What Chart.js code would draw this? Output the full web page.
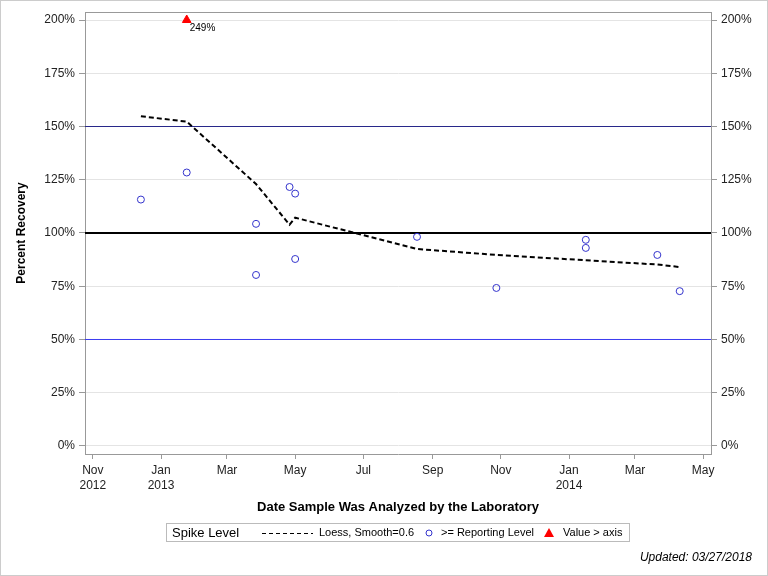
<!DOCTYPE html>
<html>
<head>
<meta charset="utf-8">
<script src="https://cdn.jsdelivr.net/npm/chart.js@4"></script>
<style>
  html, body { margin: 0; padding: 0; background: #fff; }
  canvas { display: block; }
</style>
</head>
<body>
<canvas id="spikeChart" width="768" height="576"></canvas>
<script>
// sample dates and percent recovery
const sampleDates = ["2012-12-14", "2013-01-24", "2013-03-27", "2013-03-27", "2013-04-26",
  "2013-05-01", "2013-05-01", "2013-08-18", "2013-10-28", "2014-01-16", "2014-01-16",
  "2014-03-21", "2014-04-10"];
const recovery = [115.7, 128.4, 104.3, 80.3, 121.6, 118.5, 87.8, 98.2, 74.2, 96.8, 93.0, 89.7, 72.7];

// loess fit evaluated at the distinct sample dates
const loessDates = ["2012-12-14", "2013-01-24", "2013-03-27", "2013-04-26", "2013-05-01",
  "2013-08-18", "2013-10-28", "2014-01-16", "2014-03-21", "2014-04-10"];
const loessValues = [154.8, 152.3, 123.0, 103.9, 107.2, 92.5, 89.7, 87.2, 85.2, 84.0];

// value beyond the axis, plotted at the top
const offAxisDates = ["2013-01-24"];
const offAxisValues = [249];

const refLevels = [150, 100, 50];
const yTicks = [0, 25, 50, 75, 100, 125, 150, 175, 200];
const tickDates = ["2012-11-01", "2013-01-01", "2013-03-01", "2013-05-01", "2013-07-01",
  "2013-09-01", "2013-11-01", "2014-01-01", "2014-03-01", "2014-05-01"];
const tickLabels = [["Nov", "2012"], ["Jan", "2013"], "Mar", "May", "Jul", "Sep", "Nov",
  ["Jan", "2014"], "Mar", "May"];

const day = (s) => Date.parse(s + "T00:00:00Z") / 86400000;
const xMin = day("2012-10-25");
const xMax = day("2014-05-08");
const yMax = 200;

Chart.defaults.font.family = '"Liberation Sans", Arial, sans-serif';
Chart.defaults.color = "#222";

const refColors = ["#28288a", "#000000", "#3a3af0"];
const refWidths = [1, 2, 1];

const refSets = refLevels.map((lvl, i) => ({
  label: "ref" + lvl,
  data: [{ x: xMin, y: lvl }, { x: xMax, y: lvl }],
  showLine: true,
  borderColor: refColors[i],
  borderWidth: refWidths[i],
  pointRadius: 0,
  order: 5,
}));

const frame = {
  id: "frame",
  afterDraw(chart) {
    const { ctx, chartArea: a } = chart;
    ctx.save();
    ctx.strokeStyle = "#999";
    ctx.lineWidth = 1;
    ctx.beginPath();
    ctx.moveTo(a.left, a.top + 0.5);
    ctx.lineTo(a.right, a.top + 0.5);
    ctx.stroke();
    ctx.strokeStyle = "#ccc";
    ctx.strokeRect(0.5, 0.5, chart.width - 1, chart.height - 1);

    // label for the off-axis value
    const meta = chart.getDatasetMeta(5);
    ctx.fillStyle = "#000";
    ctx.font = '10px "Liberation Sans", Arial, sans-serif';
    ctx.textBaseline = "middle";
    meta.data.forEach((pt, i) => {
      ctx.fillText(offAxisValues[i] + "%", pt.x + 3, pt.y + 8);
    });

    // legend box
    ctx.strokeStyle = "#bbb";
    ctx.strokeRect(166.5, 523.5, 463, 18);
    const ly = 533;
    ctx.fillStyle = "#000";
    ctx.font = '13px "Liberation Sans", Arial, sans-serif';
    ctx.fillText("Spike Level", 172, ly);
    ctx.font = '11px "Liberation Sans", Arial, sans-serif';
    ctx.strokeStyle = "#000";
    ctx.setLineDash([4, 3]);
    ctx.beginPath();
    ctx.moveTo(262, ly + 0.5);
    ctx.lineTo(313, ly + 0.5);
    ctx.stroke();
    ctx.setLineDash([]);
    ctx.fillText("Loess, Smooth=0.6", 319, ly);
    ctx.strokeStyle = "#3333cc";
    ctx.beginPath();
    ctx.arc(429, ly, 3, 0, Math.PI * 2);
    ctx.stroke();
    ctx.fillText(">= Reporting Level", 441, ly);
    ctx.fillStyle = "#ff0000";
    ctx.beginPath();
    ctx.moveTo(549, ly - 5);
    ctx.lineTo(554, ly + 4);
    ctx.lineTo(544, ly + 4);
    ctx.closePath();
    ctx.fill();
    ctx.fillStyle = "#000";
    ctx.fillText("Value > axis", 563, ly);

    ctx.font = 'italic 12px "Liberation Sans", Arial, sans-serif';
    ctx.textAlign = "right";
    ctx.fillText("Updated: 03/27/2018", 752, 558);
    ctx.restore();
  },
};

const yAxis = (pos) => ({
  type: "linear",
  position: pos,
  min: -3.76,
  max: 203.76,
  afterBuildTicks: (s) => { s.ticks = yTicks.map((v) => ({ value: v })); },
  afterFit: (s) => { s.width = pos === "left" ? 85 : 57; },
  ticks: {
    callback: (v) => v + "%",
    font: { size: 12 },
    padding: 4,
    color: "#222",
  },
  grid: {
    color: "#e4e4e4",
    drawOnChartArea: pos === "left",
    tickColor: "#999",
    tickLength: 6,
  },
  border: { color: "#999" },
});

new Chart(document.getElementById("spikeChart"), {
  type: "scatter",
  data: {
    datasets: [
      ...refSets,
      {
        label: "Loess, Smooth=0.6",
        data: loessDates.map((d, i) => ({ x: day(d), y: loessValues[i] })),
        showLine: true,
        borderColor: "#000",
        borderWidth: 2,
        borderDash: [5, 3],
        pointRadius: 0,
        order: 2,
      },
      {
        label: ">= Reporting Level",
        data: sampleDates.map((d, i) => ({ x: day(d), y: recovery[i] })),
        pointStyle: "circle",
        pointRadius: 3.5,
        borderColor: "#3333cc",
        backgroundColor: "rgba(0,0,0,0)",
        borderWidth: 1,
        order: 1,
      },
      {
        label: "Value > axis",
        data: offAxisDates.map((d, i) => ({ x: day(d), y: Math.min(offAxisValues[i], yMax) })),
        pointStyle: "triangle",
        pointRadius: 5,
        borderColor: "#ff0000",
        backgroundColor: "#ff0000",
        borderWidth: 1,
        clip: false,
        order: 0,
      },
    ],
  },
  options: {
    responsive: false,
    animation: false,
    events: [],
    layout: { padding: { top: 12, bottom: 0, left: 0, right: 0 } },
    plugins: {
      legend: { display: false },
      tooltip: { enabled: false },
    },
    scales: {
      x: {
        type: "linear",
        min: xMin,
        max: xMax,
        afterBuildTicks: (s) => { s.ticks = tickDates.map((d) => ({ value: day(d) })); },
        afterFit: (s) => { s.height = 122; },
        ticks: {
          autoSkip: false,
          maxRotation: 0,
          callback: (v, i) => tickLabels[i],
          font: { size: 12, lineHeight: 1.25 },
          padding: 4,
          color: "#222",
        },
        grid: {
          drawOnChartArea: false,
          tickColor: "#999",
          tickLength: 5,
        },
        border: { color: "#999" },
        title: {
          display: true,
          text: "Date Sample Was Analyzed by the Laboratory",
          font: { size: 13, weight: "bold" },
          color: "#000",
          padding: { top: 0, bottom: 61 },
        },
      },
      y: {
        ...yAxis("left"),
        title: {
          display: true,
          text: "Percent Recovery",
          font: { size: 12, weight: "bold" },
          color: "#000",
          padding: { top: 14, bottom: 0 },
        },
      },
      y2: yAxis("right"),
    },
  },
  plugins: [frame],
});
</script>
</body>
</html>
